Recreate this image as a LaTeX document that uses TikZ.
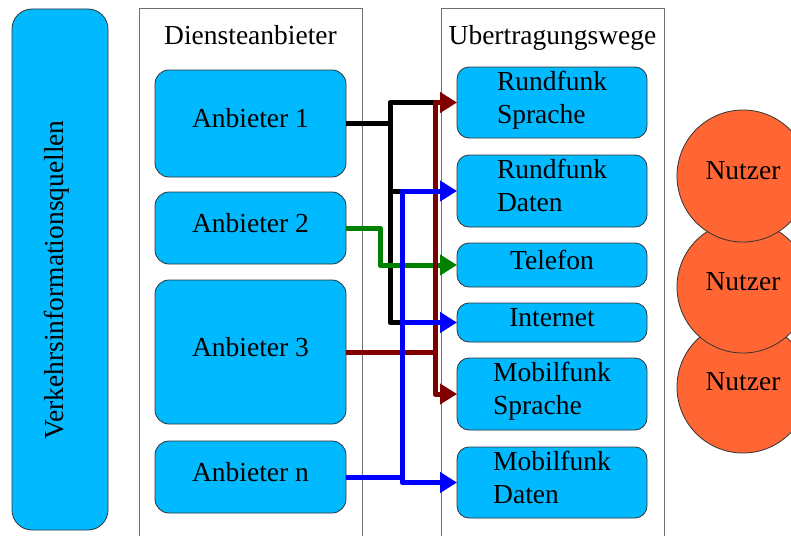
\documentclass[tikz,border=0pt]{standalone}
\usepackage{fontspec}
\setmainfont{Liberation Serif}
\usetikzlibrary{arrows.meta}
\definecolor{boxblue}{RGB}{0,185,255}
\definecolor{nutzerorange}{RGB}{255,102,51}
\definecolor{darkred}{RGB}{128,0,0}
\definecolor{darkgreen}{RGB}{0,128,0}
\definecolor{framegray}{RGB}{110,110,110}
\tikzstyle{bluebox} = [rectangle, draw=black!80, fill=boxblue, rounded corners=14pt, inner sep=0pt, outer sep=0pt, text depth=11pt, line width=0.8pt]
\tikzstyle{anbieter} = [bluebox, minimum width=191pt]
\tikzstyle{weg} = [bluebox, minimum width=190pt, align=left, rounded corners=12pt]
\tikzstyle{spalte} = [rectangle, draw=framegray, line width=0.8pt, minimum width=223pt, minimum height=532pt, anchor=north, inner sep=0pt]
\tikzstyle{nutzer} = [circle, draw=black!80, fill=nutzerorange, minimum size=132pt, inner sep=0pt, text depth=11pt, line width=0.8pt]
\tikzstyle{leitung} = [line width=5pt, line join=round]
\tikzstyle{pfeil} = [leitung, -{Triangle[length=17pt, width=20pt]}]

\begin{document}
\begin{tikzpicture}[x=1pt, y=-1pt, font=\fontsize{27.5}{33}\selectfont]
        \clip (0, 0) rectangle (791, 535);
        \fill[white] (0, 0) rectangle (791, 535);

        \node[bluebox, rounded corners=20pt, minimum width=96pt, minimum height=521pt] at (60, 269.5) (Quellen) {};
        \node[rotate=90, anchor=base] at (63, 280) (QuellenText) {Verkehrsinformationsquellen};

        \node[spalte] at (250.5, 8) (Dienste) {};
        \node[anchor=base] at (250.5, 45) (DiensteTitel) {Diensteanbieter};
        \node[spalte] at (552.5, 8) (Wege) {};
        \node[anchor=base] at (552.5, 45) (WegeTitel) {Ubertragungswege};

        \node[anbieter, minimum height=107pt] at (250.5, 123.5) (Anbieter1) {Anbieter 1};
        \node[anbieter, minimum height=72pt] at (250.5, 228) (Anbieter2) {Anbieter 2};
        \node[anbieter, minimum height=144pt] at (250.5, 352) (Anbieter3) {Anbieter 3};
        \node[anbieter, minimum height=72pt] at (250.5, 477) (AnbieterN) {Anbieter n};

        \node[weg, minimum height=71pt] at (552, 102.5) (RundfunkSprache) {Rundfunk\\Sprache};
        \node[weg, minimum height=72pt] at (552, 191) (RundfunkDaten) {Rundfunk\\Daten};
        \node[weg, minimum height=44pt] at (552, 265) (Telefon) {Telefon};
        \node[weg, minimum height=39pt] at (552, 322.5) (Internet) {Internet};
        \node[weg, minimum height=72pt] at (552, 394) (MobilfunkSprache) {Mobilfunk\\Sprache};
        \node[weg, minimum height=71pt] at (552, 482.5) (MobilfunkDaten) {Mobilfunk\\Daten};

        % bottom circle first, the upper ones lie on top
        \node[nutzer] at (743, 387) (Nutzer3) {Nutzer};
        \node[nutzer] at (743, 287) (Nutzer2) {Nutzer};
        \node[nutzer] at (743, 176) (Nutzer1) {Nutzer};

        \coordinate (GruenX) at (380, 0);
        \coordinate (SchwarzX) at (390, 0);
        \coordinate (BlauX) at (402, 0);
        \coordinate (RotX) at (435, 0);

        \draw[leitung] (Anbieter1.east) -| (SchwarzX |- RundfunkSprache.west) -- (RotX |- RundfunkSprache.west);
        \draw[leitung] (Anbieter1.east -| SchwarzX) |- (BlauX |- RundfunkDaten.west);
        \draw[leitung] (Anbieter1.east -| SchwarzX) |- (BlauX |- Internet.west);

        \draw[pfeil, darkgreen] (Anbieter2.east) -| (GruenX |- Telefon.west) -- (Telefon.west);

        \draw[pfeil, darkred] (Anbieter3.east) -| (RotX |- RundfunkSprache.west) -- (RundfunkSprache.west);
        \draw[pfeil, darkred] (Anbieter3.east -| RotX) |- (MobilfunkSprache.west);

        \draw[pfeil, blue] (AnbieterN.east) -| (BlauX |- MobilfunkDaten.west) -- (MobilfunkDaten.west);
        \draw[pfeil, blue] (AnbieterN.east -| BlauX) |- (RundfunkDaten.west);
        \draw[pfeil, blue] (AnbieterN.east -| BlauX) |- (Internet.west);
    \end{tikzpicture}
\end{document}
